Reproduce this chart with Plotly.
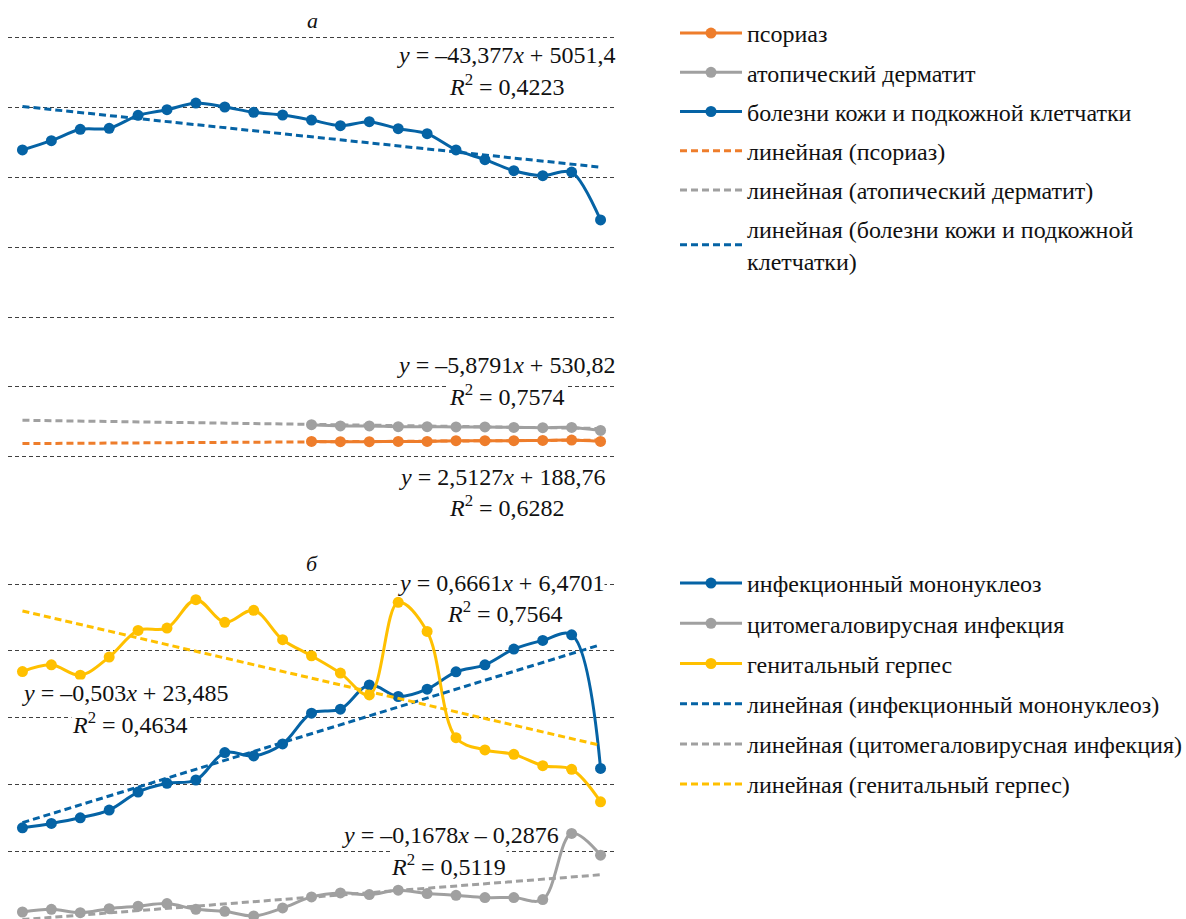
import plotly.graph_objects as go

# ---------------- data ----------------
years_idx = list(range(1, 22))          # 21 consecutive observation points
sub_idx = list(range(11, 22))           # last 11 points (psoriasis / atopic dermatitis)

# panel а
psoriasis = [223, 219, 219, 223, 223, 233, 233, 233, 237, 242, 223]
atopic = [461, 443, 443, 433, 433, 429, 429, 423, 419, 423, 380]
skin = [4386, 4519, 4681, 4695, 4881, 4962, 5057, 5000, 4924, 4886, 4814,
        4733, 4790, 4690, 4619, 4386, 4248, 4090, 4019, 4071, 3386]

# panel б
mono = [6.75, 7.08, 7.5, 8.08, 9.43, 10.08, 10.33, 12.38, 12.13, 13.03, 15.33,
        15.63, 17.45, 16.58, 17.13, 18.43, 18.95, 20.13, 20.78, 21.2, 11.2]
cmv = [0.45, 0.65, 0.4, 0.7, 0.88, 1.08, 0.65, 0.5, 0.15, 0.75, 1.58,
       1.88, 1.75, 2.08, 1.83, 1.7, 1.53, 1.53, 1.38, 6.33, 4.7]
herpes = [18.45, 18.95, 18.18, 19.53, 21.53, 21.7, 23.83, 22.13, 23.03, 20.83, 19.63,
          18.33, 16.7, 23.63, 21.45, 13.5, 12.58, 12.25, 11.4, 11.13, 8.7]

# linear trend coefficients (slope, intercept) as drawn in the picture
trend_psoriasis = (2.5127, 188.76)
trend_atopic = (-5.8791, 530.82)
trend_skin = (-43.377, 5051.4)
trend_mono = (0.6661, 6.4701)
trend_cmv = (0.1678, -0.2876)
trend_herpes = (-0.503, 23.485)

# labels
eq_labels = {
    "skin": ("<i>y</i> = –43,377<i>x</i> + 5051,4", "<i>R</i><sup>2</sup> = 0,4223"),
    "atopic": ("<i>y</i> = –5,8791<i>x</i> + 530,82", "<i>R</i><sup>2</sup> = 0,7574"),
    "psoriasis": ("<i>y</i> = 2,5127<i>x</i> + 188,76", "<i>R</i><sup>2</sup> = 0,6282"),
    "mono": ("<i>y</i> = 0,6661<i>x</i> + 6,4701", "<i>R</i><sup>2</sup> = 0,7564"),
    "herpes": ("<i>y</i> = –0,503<i>x</i> + 23,485", "<i>R</i><sup>2</sup> = 0,4634"),
    "cmv": ("<i>y</i> = –0,1678<i>x</i> – 0,2876", "<i>R</i><sup>2</sup> = 0,5119"),
}

ORANGE = "#EE7D2B"
GRAY = "#A0A0A0"
BLUE = "#0563A5"
YELLOW = "#FFC000"
FONT = "Liberation Serif, Times New Roman, serif"
TXT = "#111111"

W, H = 1186, 919

def px_x(p):
    return p / W

def px_y(p):
    return 1 - p / H

fig = go.Figure()

def series(x, y, name, color, xa, ya, legend, smooth):
    fig.add_trace(go.Scatter(
        x=x, y=y, name=name, mode="lines+markers",
        line=dict(color=color, width=3, shape="spline", smoothing=smooth),
        marker=dict(color=color, size=11),
        xaxis=xa, yaxis=ya, legend=legend, legendgroup=name,
    ))

def trend(coef, name, color, xa, ya, legend):
    xs = [years_idx[0], years_idx[-1]]
    ys = [coef[0] * v + coef[1] for v in xs]
    fig.add_trace(go.Scatter(
        x=xs, y=ys, name=name, mode="lines",
        line=dict(color=color, width=3, dash="7px,4px"),
        xaxis=xa, yaxis=ya, legend=legend, legendgroup=name,
    ))

# panel а
series(sub_idx, psoriasis, "псориаз", ORANGE, "x", "y", "legend", 0.8)
series(sub_idx, atopic, "атопический дерматит", GRAY, "x", "y", "legend", 0.8)
series(years_idx, skin, "болезни кожи и подкожной клетчатки", BLUE, "x", "y", "legend", 0.8)
trend(trend_psoriasis, "линейная (псориаз)", ORANGE, "x", "y", "legend")
trend(trend_atopic, "линейная (атопический дерматит)", GRAY, "x", "y", "legend")
trend(trend_skin, "линейная (болезни кожи и подкожной<br>клетчатки)", BLUE, "x", "y", "legend")

# panel б
series(years_idx, mono, "инфекционный мононуклеоз", BLUE, "x2", "y2", "legend2", 1.0)
series(years_idx, cmv, "цитомегаловирусная инфекция", GRAY, "x2", "y2", "legend2", 1.0)
series(years_idx, herpes, "генитальный герпес", YELLOW, "x2", "y2", "legend2", 1.0)
trend(trend_mono, "линейная (инфекционный мононуклеоз)", BLUE, "x2", "y2", "legend2")
trend(trend_cmv, "линейная (цитомегаловирусная инфекция)", GRAY, "x2", "y2", "legend2")
trend(trend_herpes, "линейная (генитальный герпес)", YELLOW, "x2", "y2", "legend2")

grid = dict(showgrid=True, gridcolor="#404040", gridwidth=1, griddash="4px,3px",
            zeroline=False, showticklabels=False, ticks="", showline=False)
xcommon = dict(range=[0.5, 21.5], domain=[px_x(8), px_x(615)], showgrid=False,
               zeroline=False, showticklabels=False, ticks="", showline=False)

fig.update_layout(
    width=W, height=H,
    margin=dict(l=0, r=0, t=0, b=0, autoexpand=False),
    paper_bgcolor="white", plot_bgcolor="white",
    font=dict(family=FONT, size=24, color=TXT),
    showlegend=True,
    xaxis=dict(**xcommon, anchor="y"),
    xaxis2=dict(**xcommon, anchor="y2"),
    # 0 at y=457 px, 6000 at y=37 px (10 px padding each side)
    yaxis=dict(**grid, range=[-143, 6143], dtick=1000, tick0=0,
               domain=[px_y(467), px_y(27)], anchor="x"),
    # 0 at y=918 px, 25 at y=584 px
    yaxis2=dict(**grid, range=[-0.075, 25.75], dtick=5, tick0=0,
                domain=[px_y(919), px_y(574)], anchor="x2"),
    legend=dict(x=px_x(675), y=px_y(11), xanchor="left", yanchor="top",
                font=dict(family=FONT, size=24, color=TXT),
                tracegroupgap=5, itemwidth=62, bgcolor="rgba(0,0,0,0)"),
    legend2=dict(x=px_x(675), y=px_y(561), xanchor="left", yanchor="top",
                 font=dict(family=FONT, size=24, color=TXT),
                 tracegroupgap=6, itemwidth=62, bgcolor="rgba(0,0,0,0)"),
)

ann = []
def label(text, cx, cy, size=24):
    ann.append(dict(text=text, x=px_x(cx), y=px_y(cy), xref="paper", yref="paper",
                    xanchor="center", yanchor="middle", showarrow=False,
                    bgcolor="white", borderpad=0,
                    font=dict(family=FONT, size=size, color=TXT)))

label("<i>а</i>", 312, 20, 22)
label("<i>б</i>", 312, 563, 22)
label(eq_labels["skin"][0], 506, 55)
label(eq_labels["skin"][1], 507, 85)
label(eq_labels["atopic"][0], 506, 365)
label(eq_labels["atopic"][1], 507, 395)
label(eq_labels["psoriasis"][0], 502, 477)
label(eq_labels["psoriasis"][1], 507, 506)
label(eq_labels["mono"][0], 501, 583)
label(eq_labels["mono"][1], 505, 612)
label(eq_labels["herpes"][0], 125, 693)
label(eq_labels["herpes"][1], 130, 723)
label(eq_labels["cmv"][0], 450, 835)
label(eq_labels["cmv"][1], 448, 865)
fig.update_layout(annotations=ann)

# remove the default page margin so the 1186x919 figure fills the window exactly
fig.write_html("out.html",
               config={"displayModeBar": False},
               post_script="document.body.style.margin='0';document.body.style.overflow='hidden';")
